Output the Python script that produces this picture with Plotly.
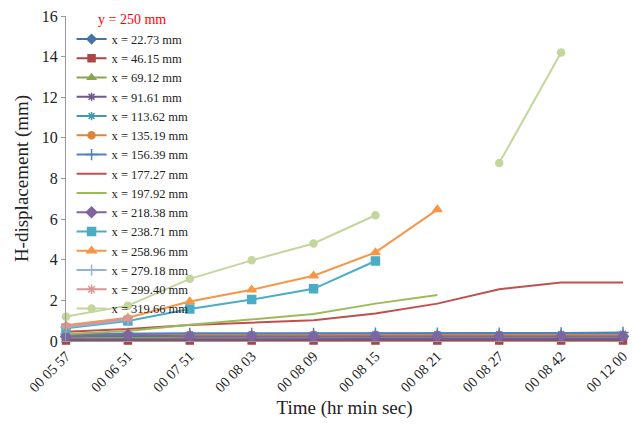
import plotly.graph_objects as go

times = ["00 05 57", "00 06 51", "00 07 51", "00 08 03", "00 08 09",
         "00 08 15", "00 08 21", "00 08 27", "00 08 42", "00 12 00"]

N = None
names = ["x = 22.73 mm", "x = 46.15 mm", "x = 69.12 mm", "x = 91.61 mm",
         "x = 113.62 mm", "x = 135.19 mm", "x = 156.39 mm", "x = 177.27 mm",
         "x = 197.92 mm", "x = 218.38 mm", "x = 238.71 mm", "x = 258.96 mm",
         "x = 279.18 mm", "x = 299.40 mm", "x = 319.66 mm"]

s22 = [0.20, 0.24, 0.25, 0.25, 0.25, 0.25, 0.25, 0.26, 0.26, 0.27]
s46 = [0.02, 0.02, 0.02, 0.02, 0.02, 0.02, 0.02, 0.02, 0.02, 0.02]
s69 = [0.14, 0.15, 0.16, 0.16, 0.16, 0.16, 0.17, 0.17, 0.17, 0.18]
s91 = [0.08, 0.09, 0.10, 0.10, 0.10, 0.10, 0.10, 0.10, 0.10, 0.10]
s113 = [0.30, 0.32, 0.33, 0.33, 0.33, 0.34, 0.34, 0.34, 0.35, 0.36]
s135 = [0.28, 0.33, 0.30, 0.30, 0.30, 0.30, 0.30, 0.30, 0.30, 0.30]
s156 = [0.35, 0.38, 0.38, 0.38, 0.38, 0.39, 0.39, 0.39, 0.40, 0.42]
s177 = [0.46, 0.59, 0.79, 0.90, 1.02, 1.35, 1.84, 2.55, 2.88, 2.88]
s197 = [0.35, 0.49, 0.80, 1.05, 1.33, 1.84, 2.26, N, N, N]
s218 = [0.22, 0.30, 0.22, 0.22, 0.22, 0.22, 0.22, 0.22, 0.22, 0.22]
s238 = [0.63, 0.99, 1.58, 2.04, 2.57, 3.94, N, N, N, N]
s258 = [0.77, 1.14, 1.94, 2.52, 3.21, 4.36, 6.47, N, N, N]
s279 = [0.68, 1.05, N, N, N, N, N, N, N, N]
s299 = [0.72, 1.10, N, N, N, N, N, N, N, N]
s319 = [1.20, 1.74, 3.06, 3.97, 4.80, 6.19, N, 8.76, 14.20, N]

series = [s22, s46, s69, s91, s113, s135, s156, s177, s197, s218,
          s238, s258, s279, s299, s319]
colors = ["#4572A7", "#AA4643", "#89A54E", "#71588F", "#4198AF", "#DB843D",
          "#4F81BD", "#C0504D", "#9BBB59", "#8064A2", "#4BACC6", "#F79646",
          "#95B3D7", "#D99694", "#C3D69B"]
symbols = ["diamond", "square", "triangle-up", "asterisk-open", "asterisk-open",
           "circle", "cross-thin-open", None, None, "diamond", "square",
           "triangle-up", "cross-thin-open", "asterisk-open", "circle"]
sizes = [7, 7, 7, 7, 7, 7, 8, 0, 0, 8, 8, 8, 8, 8, 7]

fig = go.Figure()
for nm, vals, c, sym, sz in zip(names, series, colors, symbols, sizes):
    if sym is None:
        fig.add_trace(go.Scatter(x=times, y=vals, name=nm, mode="lines",
                                 line=dict(color=c, width=2), cliponaxis=False))
    else:
        fig.add_trace(go.Scatter(x=times, y=vals, name=nm, mode="lines+markers",
                                 line=dict(color=c, width=2),
                                 marker=dict(symbol=sym, size=sz, color=c,
                                             line=dict(color=c, width=1.5)),
                                 cliponaxis=False))

font = "Liberation Serif, Times New Roman, serif"
fig.update_layout(
    width=633, height=442,
    margin=dict(l=66, r=3, t=16, b=101),
    plot_bgcolor="white", paper_bgcolor="white",
    font=dict(family=font, size=15, color="#222"),
    showlegend=True,
    legend=dict(x=0.01, y=1.03, xanchor="left", yanchor="top",
                bgcolor="rgba(0,0,0,0)", font=dict(size=12.5, family=font),
                title=dict(text="       y = 250 mm", font=dict(color="#FF0000", size=14, family=font)),
                itemwidth=30, tracegroupgap=0, maxheight=440),
    xaxis=dict(type="category", range=[0, 9], showline=True, linecolor="#999",
               linewidth=1, ticks="", tickangle=-45, showgrid=False,
               tickfont=dict(size=14.5, family=font),
               title=dict(text="Time (hr min sec)", font=dict(size=19, family=font), standoff=6)),
    yaxis=dict(range=[0, 16], dtick=2, showline=True, linecolor="#999", linewidth=1,
               ticks="outside", ticklen=4, tickcolor="#999", showgrid=False,
               zeroline=False, tickfont=dict(size=16, family=font),
               title=dict(text="H-displacement (mm)", font=dict(size=19, family=font), standoff=8)),
)
fig.write_html("out.html")
